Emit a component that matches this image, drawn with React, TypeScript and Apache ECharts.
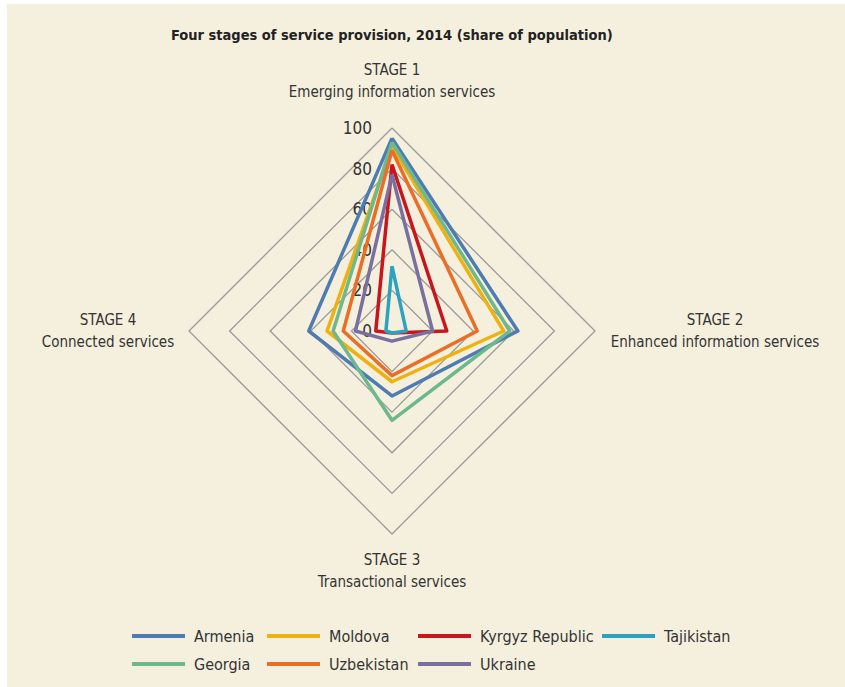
import React, { useEffect, useRef } from "react";
import * as echarts from "echarts";

const FONT = "'Liberation Sans Narrow', 'DejaVu Sans Condensed', 'Roboto', sans-serif";

const titleText = "Four stages of service provision, 2014 (share of population)";

// Indicators in ECharts' counter-clockwise order: top, left, bottom, right
const stageNames = ["STAGE 1", "STAGE 4", "STAGE 3", "STAGE 2"];
const stageSubtitles = [
  "Emerging information services",
  "Connected services",
  "Transactional services",
  "Enhanced information services",
];
const stageMax = 100;

// values ordered as [Stage 1, Stage 4, Stage 3, Stage 2]
const countries = [
  "Armenia",
  "Moldova",
  "Kyrgyz Republic",
  "Tajikistan",
  "Georgia",
  "Uzbekistan",
  "Ukraine",
];
const armenia = [95, 41, 32, 62];
const moldova = [91, 32, 25, 55];
const kyrgyz = [82, 8, 1, 27];
const tajikistan = [32, 3, 1, 7];
const georgia = [93, 29, 44, 58];
const uzbekistan = [89, 24, 22, 42];
const ukraine = [77, 18, 5, 20];

const seriesValues = [armenia, moldova, kyrgyz, tajikistan, georgia, uzbekistan, ukraine];
const colors = ["#4E7BB2", "#F0B010", "#C8161E", "#2BA3C0", "#6DB88C", "#EA6E25", "#79709F"];

// legend columns
const legendColumns = [
  ["Armenia", "Georgia"],
  ["Moldova", "Uzbekistan"],
  ["Kyrgyz Republic", "Ukraine"],
  ["Tajikistan"],
];
const legendLefts = [127, 262, 413, 597];

export default function App() {
  const ref = useRef<HTMLDivElement>(null);

  useEffect(() => {
    if (!ref.current) return;
    const chart = echarts.init(ref.current, undefined, { renderer: "svg" });

    const styleKeys = ["top", "left", "bottom", "right"];
    const indicator = stageNames.map((n, i) => {
      const ind: any = { name: n, min: 0, max: stageMax };
      if (i === 0) {
        ind.axisLabel = {
          show: true,
          color: "#333",
          fontFamily: FONT,
          fontSize: 17,
          margin: 20,
          showMinLabel: true,
          showMaxLabel: true,
        };
      }
      return ind;
    });

    const base = { fontFamily: FONT, fontSize: 15, color: "#333", lineHeight: 22, align: "center" };

    const option: any = {
      animation: false,
      backgroundColor: "transparent",
      title: {
        text: titleText,
        left: 166,
        top: 22,
        textStyle: {
          fontFamily: FONT,
          fontWeight: "bold",
          fontSize: 14.5,
          color: "#222",
        },
      },
      legend: legendColumns.map((col, i) => ({
        data: col,
        orient: "vertical",
        left: legendLefts[i],
        top: 621,
        itemWidth: 53,
        itemHeight: 4,
        itemGap: 8,
        icon: "rect",
        textStyle: {
          fontFamily: FONT,
          fontSize: 16,
          lineHeight: 20,
          color: "#333",
          padding: [0, 0, 0, 4],
        },
      })),
      radar: {
        center: [392, 331],
        radius: 203,
        shape: "polygon",
        splitNumber: 5,
        nameGap: 15,
        indicator,
        axisName: {
          fontFamily: FONT,
          fontSize: 15,
          color: "#333",
          formatter: (name: string) => {
            const i = stageNames.indexOf(name);
            const k = styleKeys[i];
            const s = `{${k}|${name}}\n{${k}|${stageSubtitles[i]}}`;
            return i === 0 ? s + "\n{sp| }" : s;
          },
          rich: {
            top: { ...base, width: 206 },
            sp: { ...base, lineHeight: 10, fontSize: 8 },
            left: { ...base, width: 132 },
            bottom: { ...base, width: 160 },
            right: { ...base, width: 210 },
          },
        },
        axisLine: { show: false },
        axisTick: { show: false },
        axisLabel: { show: false },
        splitArea: { show: false },
        splitLine: { lineStyle: { color: "#999999", width: 1.3 } },
      },
      series: [
        {
          type: "radar",
          symbol: "none",
          data: countries.map((c, i) => ({
            name: c,
            value: seriesValues[i],
            lineStyle: { color: colors[i], width: 3.5 },
            itemStyle: { color: colors[i] },
          })),
        },
      ],
    };

    chart.setOption(option);
    return () => chart.dispose();
  }, []);

  return (
    <>
      <div
        style={{
          position: "absolute",
          left: 7,
          top: 4,
          width: 838,
          height: 683,
          background: "#F5F0DE",
        }}
      />
      <div
        ref={ref}
        style={{ position: "absolute", left: 0, top: 0, width: 845, height: 687 }}
      />
    </>
  );
}
